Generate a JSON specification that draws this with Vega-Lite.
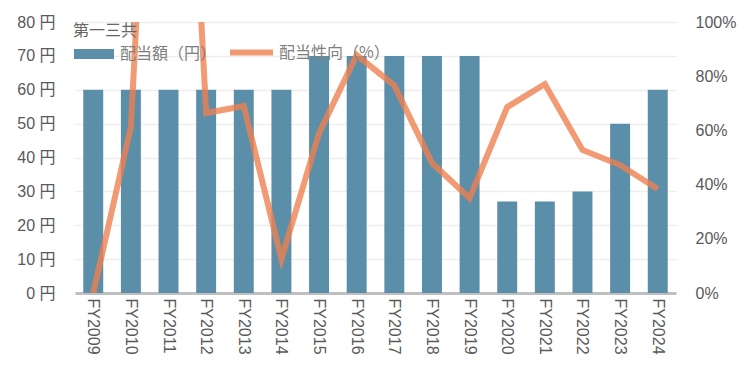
{
  "$schema": "https://vega.github.io/schema/vega-lite/v6.json",
  "autosize": "none",
  "width": 601,
  "height": 271,
  "padding": {"left": 75, "top": 22, "right": 74, "bottom": 84},
  "background": "white",
  "config": {
    "view": {"stroke": null},
    "font": "Liberation Sans, Noto Sans CJK JP",
    "axis": {"labelFont": "Liberation Sans, Noto Sans CJK JP", "labelFontSize": 16, "labelColor": "#595959", "ticks": false, "title": null},
    "legend": {"labelFont": "Noto Sans CJK JP", "labelFontSize": 16, "labelColor": "#7f7f7f", "titleFont": "Noto Sans CJK JP", "titleFontSize": 16, "titleColor": "#666666", "titleFontWeight": "normal", "padding": 0, "offset": 0}
  },
  "data": {
    "values": [
      {"year": "FY2009", "dividend": 60, "payout": 0},
      {"year": "FY2010", "dividend": 60, "payout": 61.3},
      {"year": "FY2011", "dividend": 60, "payout": 330},
      {"year": "FY2012", "dividend": 60, "payout": 66.4},
      {"year": "FY2013", "dividend": 60, "payout": 69},
      {"year": "FY2014", "dividend": 60, "payout": 12.5},
      {"year": "FY2015", "dividend": 70, "payout": 59},
      {"year": "FY2016", "dividend": 70, "payout": 87.8},
      {"year": "FY2017", "dividend": 70, "payout": 76.6},
      {"year": "FY2018", "dividend": 70, "payout": 48},
      {"year": "FY2019", "dividend": 70, "payout": 35},
      {"year": "FY2020", "dividend": 27, "payout": 68.6},
      {"year": "FY2021", "dividend": 27, "payout": 77.1},
      {"year": "FY2022", "dividend": 30, "payout": 52.8},
      {"year": "FY2023", "dividend": 50, "payout": 47.2},
      {"year": "FY2024", "dividend": 60, "payout": 38.4}
    ]
  },
  "encoding": {
    "x": {
      "field": "year",
      "type": "nominal",
      "sort": null,
      "scale": {"paddingInner": 0.47, "paddingOuter": 0.22},
      "axis": {"labelAngle": 90, "labelPadding": 5, "domainColor": "#bfbfbf", "domainWidth": 3, "grid": false}
    }
  },
  "layer": [
    {
      "mark": {"type": "bar"},
      "encoding": {
        "y": {
          "field": "dividend",
          "type": "quantitative",
          "scale": {"domain": [0, 80], "nice": false},
          "axis": {"values": [0, 10, 20, 30, 40, 50, 60, 70, 80], "labelExpr": "datum.value + ' 円'", "labelPadding": 20, "domain": false, "grid": true, "gridColor": "#eeeeee", "gridWidth": 1.5}
        },
        "color": {
          "datum": "配当額（円）",
          "scale": {"range": ["#5b8ea8"]},
          "legend": {"title": "第一三共", "orient": "none", "legendX": -2, "legendY": 1, "titlePadding": -6, "symbolType": "M-1,-0.25H1V0.25H-1Z", "symbolSize": 1600, "symbolOpacity": 1, "labelOffset": 5}
        }
      }
    },
    {
      "mark": {"type": "line", "clip": true, "strokeWidth": 6, "opacity": 0.8, "strokeJoin": "miter"},
      "encoding": {
        "y": {
          "field": "payout",
          "type": "quantitative",
          "scale": {"domain": [0, 100], "nice": false},
          "axis": {"orient": "right", "values": [0, 20, 40, 60, 80, 100], "labelExpr": "datum.value + '%'", "labelPadding": 19, "domain": false, "grid": false}
        },
        "color": {
          "datum": "配当性向（%）",
          "scale": {"range": ["#ee8150"]},
          "legend": {"title": null, "orient": "none", "legendX": 152, "legendY": 6, "symbolType": "stroke", "symbolSize": 1849, "symbolStrokeWidth": 6, "symbolOpacity": 0.8, "labelOffset": 3}
        }
      }
    }
  ],
  "resolve": {"scale": {"y": "independent", "color": "independent"}}
}
